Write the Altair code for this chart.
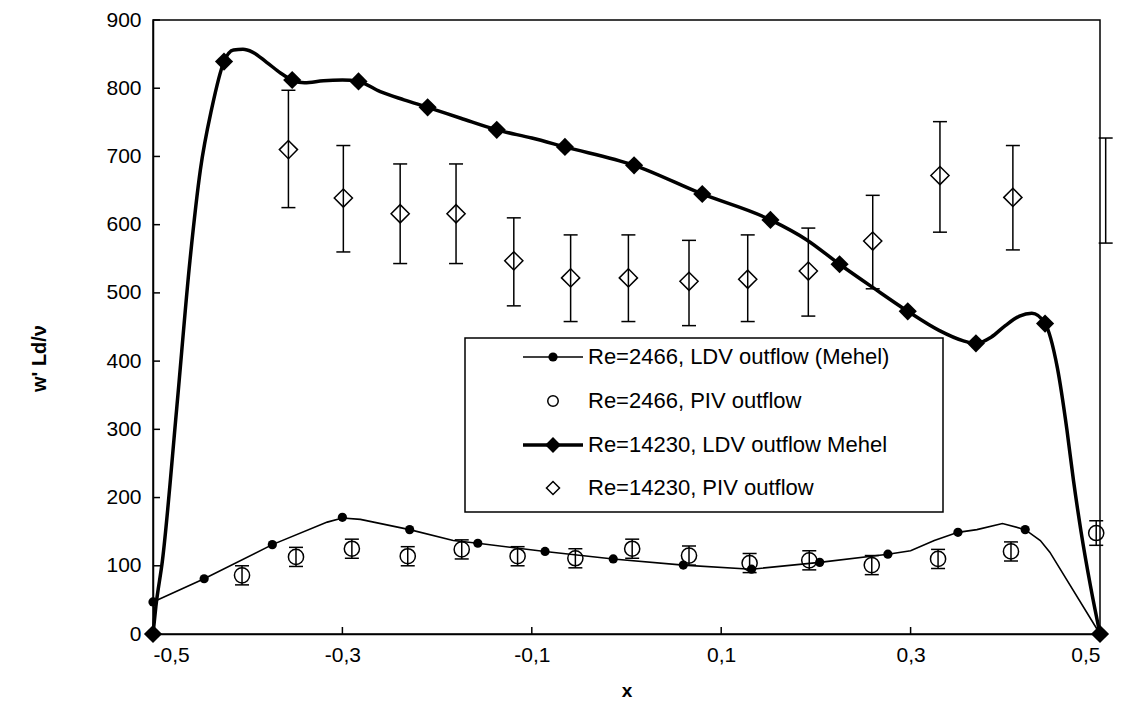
import altair as alt
import pandas as pd

FONT = "Liberation Sans"

# ---- Re=14230 LDV (Mehel): marker points and the smoothed curve ----
ldv14_x = [-0.5, -0.425, -0.353, -0.283, -0.21, -0.137, -0.065, 0.008, 0.08, 0.152, 0.225, 0.297, 0.369, 0.442, 0.5]
ldv14_y = [0, 839, 812, 810, 772, 739, 714, 687, 645, 607, 542, 473, 426, 455, 0]

curve14_x = [-0.5, -0.497, -0.49, -0.475, -0.461, -0.45, -0.438, -0.425, -0.415, -0.405, -0.395, -0.38,
             -0.365, -0.353, -0.34, -0.32, -0.3, -0.283, -0.26, -0.235, -0.21, -0.175, -0.137, -0.1,
             -0.065, 0.008, 0.08, 0.152, 0.19, 0.225, 0.26, 0.297, 0.33, 0.355, 0.369, 0.385, 0.4,
             0.415, 0.428, 0.442, 0.455, 0.465, 0.472, 0.48, 0.49, 0.5]
curve14_y = [0, 40, 108, 330, 547, 680, 770, 839, 856, 857, 853, 838,
             822, 812, 808, 811, 812, 810, 795, 783, 772, 756, 739, 727,
             714, 687, 645, 607, 578, 542, 508, 473, 445, 430, 426, 435, 452,
             466, 470, 455, 390, 300, 225, 150, 70, 0]

# ---- Re=2466 LDV (Mehel): marker points and line ----
ldv2_x = [-0.5, -0.446, -0.374, -0.30, -0.229, -0.157, -0.086, -0.014, 0.060, 0.132, 0.204, 0.276, 0.350, 0.421, 0.5]
ldv2_y = [47, 81, 131, 171, 153, 133, 121, 110, 101, 95, 105, 117, 149, 153, 0]

line2_x = [-0.5, -0.446, -0.374, -0.316, -0.30, -0.281, -0.229, -0.183, -0.157, -0.086, -0.014, 0.060,
           0.132, 0.204, 0.276, 0.30, 0.325, 0.350, 0.37, 0.397, 0.421, 0.437, 0.447, 0.5]
line2_y = [47, 81, 131, 164, 170, 168, 153, 137, 133, 121, 110, 101,
           95, 105, 117, 122, 137, 149, 153, 162, 153, 137, 120, 0]

# ---- Re=2466 PIV ----
piv2_x = [-0.406, -0.349, -0.290, -0.231, -0.174, -0.115, -0.054, 0.006, 0.066, 0.130, 0.193, 0.259, 0.329, 0.406, 0.496]
piv2_y = [86, 113, 125, 114, 124, 114, 111, 125, 115, 104, 108, 101, 110, 121, 148]
piv2_err = [14, 14, 14, 14, 14, 14, 14, 14, 14, 14, 14, 14, 14, 14, 18]

# ---- Re=14230 PIV ----
piv14_x = [-0.357, -0.299, -0.239, -0.180, -0.119, -0.059, 0.002, 0.066, 0.128, 0.192, 0.260, 0.331, 0.408, 0.506]
piv14_y = [710, 639, 616, 616, 547, 522, 522, 517, 520, 532, 576, 672, 640, 650]
piv14_lo = [625, 560, 543, 543, 481, 458, 458, 452, 458, 466, 506, 589, 563, 573]
piv14_hi = [797, 716, 689, 689, 610, 585, 585, 577, 585, 595, 643, 751, 716, 727]

x_ticks = [-0.5, -0.3, -0.1, 0.1, 0.3, 0.5]
y_ticks = [0, 100, 200, 300, 400, 500, 600, 700, 800, 900]

legend_labels = ["Re=2466, LDV outflow (Mehel)", "Re=2466, PIV outflow",
                 "Re=14230, LDV outflow Mehel", "Re=14230, PIV outflow"]

W, H = 947, 614

df_ldv14 = pd.DataFrame({"x": ldv14_x, "y": ldv14_y})
df_c14 = pd.DataFrame({"x": curve14_x, "y": curve14_y})
df_ldv2 = pd.DataFrame({"x": ldv2_x, "y": ldv2_y})
df_l2 = pd.DataFrame({"x": line2_x, "y": line2_y})
df_p2 = pd.DataFrame({"x": piv2_x, "y": piv2_y, "e": piv2_err})
df_p2["lo"] = df_p2["y"] - df_p2["e"]
df_p2["hi"] = df_p2["y"] + df_p2["e"]
df_p14 = pd.DataFrame({"x": piv14_x, "y": piv14_y, "lo": piv14_lo, "hi": piv14_hi})
df_xt = pd.DataFrame({"v": x_ticks})
df_yt = pd.DataFrame({"v": y_ticks})
one = pd.DataFrame({"a": [0]})

XS = alt.Scale(domain=[-0.5, 0.5], nice=False, zero=False)
YS = alt.Scale(domain=[0, 900], nice=False)

xaxis = alt.Axis(values=x_ticks,
                 labelExpr="replace(replace(format(datum.value,'.1f'),'.',','),'−','-')",
                 grid=False, ticks=False, tickSize=0, domainColor="black", domainWidth=1.5,
                 labelFont=FONT, labelFontSize=21, labelColor="black", labelPadding=10,
                 title="x", titleFont=FONT, titleFontSize=19, titleFontWeight="bold",
                 titleColor="black", titlePadding=16)
yaxis = alt.Axis(values=y_ticks, grid=False, ticks=False, tickSize=0, domainColor="black",
                 domainWidth=1.5, labelFont=FONT, labelFontSize=21, labelColor="black",
                 labelPadding=12, title="w' Ld/ν", titleFont=FONT, titleFontSize=20,
                 titleFontWeight="bold", titleColor="black", titleX=-114, titleY=338,
                 titleAngle=-90, titleAlign="center", titleBaseline="middle")

base_x = alt.X("x:Q", scale=XS, axis=xaxis)
base_y = alt.Y("y:Q", scale=YS, axis=yaxis)

thick_line = alt.Chart(df_c14).mark_line(color="black", strokeWidth=3.5, interpolate="monotone").encode(
    x=base_x, y=base_y, order="x:Q")
thick_pts = alt.Chart(df_ldv14).mark_point(shape="diamond", filled=True, color="black", size=330, opacity=1).encode(
    x="x:Q", y="y:Q")
thin_line = alt.Chart(df_l2).mark_line(color="black", strokeWidth=1.6).encode(x="x:Q", y="y:Q", order="x:Q")
thin_pts = alt.Chart(df_ldv2).mark_point(shape="circle", filled=True, color="black", size=85, opacity=1).encode(
    x="x:Q", y="y:Q")

p2_rule = alt.Chart(df_p2).mark_rule(color="black", strokeWidth=1.5).encode(x="x:Q", y="lo:Q", y2="hi:Q")
p2_cap_lo = alt.Chart(df_p2).mark_rule(color="black", strokeWidth=1.5, xOffset=-7, x2Offset=7).encode(
    x="x:Q", x2="x:Q", y="lo:Q")
p2_cap_hi = alt.Chart(df_p2).mark_rule(color="black", strokeWidth=1.5, xOffset=-7, x2Offset=7).encode(
    x="x:Q", x2="x:Q", y="hi:Q")
p2_pts = alt.Chart(df_p2).mark_point(shape="circle", filled=False, color="black", size=230, strokeWidth=1.5,
                                     opacity=1).encode(x="x:Q", y="y:Q")

p14_rule = alt.Chart(df_p14).mark_rule(color="black", strokeWidth=1.5).encode(x="x:Q", y="lo:Q", y2="hi:Q")
p14_cap_lo = alt.Chart(df_p14).mark_rule(color="black", strokeWidth=1.5, xOffset=-7, x2Offset=7).encode(
    x="x:Q", x2="x:Q", y="lo:Q")
p14_cap_hi = alt.Chart(df_p14).mark_rule(color="black", strokeWidth=1.5, xOffset=-7, x2Offset=7).encode(
    x="x:Q", x2="x:Q", y="hi:Q")
p14_pts = alt.Chart(df_p14).transform_filter("datum.x <= 0.5").mark_point(
    shape="diamond", filled=False, color="black", size=330, strokeWidth=1.5, opacity=1).encode(x="x:Q", y="y:Q")

ytick_marks = alt.Chart(df_yt).mark_rule(color="black", strokeWidth=1.5).encode(
    x=alt.value(0), x2=alt.value(7), y=alt.Y("v:Q", scale=YS))
xtick_marks = alt.Chart(df_xt).mark_rule(color="black", strokeWidth=1.5).encode(
    x=alt.X("v:Q", scale=XS), y=alt.value(H), y2=alt.value(H - 7))

# ---- legend (drawn by hand, boxed) ----
LX0, LX1, LY0, LY1 = 312, 790, 318, 492
rows = [337, 381, 425, 468]
SX0, SX1, SXM, TX = 370, 430, 400, 435

leg_box = alt.Chart(one).mark_rect(fill="white", stroke="black", strokeWidth=1.5).encode(
    x=alt.value(LX0), x2=alt.value(LX1), y=alt.value(LY0), y2=alt.value(LY1))
leg_layers = [leg_box]
leg_layers.append(alt.Chart(one).mark_rule(color="black", strokeWidth=1.6).encode(
    x=alt.value(SX0), x2=alt.value(SX1), y=alt.value(rows[0])))
leg_layers.append(alt.Chart(one).mark_point(shape="circle", filled=True, color="black", size=85, opacity=1).encode(
    x=alt.value(SXM), y=alt.value(rows[0])))
leg_layers.append(alt.Chart(one).mark_point(shape="circle", filled=False, color="black", size=110, strokeWidth=1.5,
                                            opacity=1).encode(x=alt.value(SXM), y=alt.value(rows[1])))
leg_layers.append(alt.Chart(one).mark_rule(color="black", strokeWidth=3.5).encode(
    x=alt.value(SX0), x2=alt.value(SX1), y=alt.value(rows[2])))
leg_layers.append(alt.Chart(one).mark_point(shape="diamond", filled=True, color="black", size=250, opacity=1).encode(
    x=alt.value(SXM), y=alt.value(rows[2])))
leg_layers.append(alt.Chart(one).mark_point(shape="diamond", filled=False, color="black", size=170, strokeWidth=1.5,
                                            opacity=1).encode(x=alt.value(SXM), y=alt.value(rows[3])))
for lab, ry in zip(legend_labels, rows):
    leg_layers.append(alt.Chart(one).mark_text(text=lab, font=FONT, fontSize=22, align="left", baseline="middle",
                                               color="black").encode(x=alt.value(TX), y=alt.value(ry)))

chart = alt.layer(
    thick_line, thin_line, thick_pts, thin_pts,
    p14_rule, p14_cap_lo, p14_cap_hi, p14_pts,
    p2_rule, p2_cap_lo, p2_cap_hi, p2_pts,
    *leg_layers,
    ytick_marks, xtick_marks,
).properties(
    width=W, height=H,
    autosize=alt.AutoSizeParams(type="none"),
    padding={"left": 145, "top": 12, "right": 15, "bottom": 74},
    background="white",
).configure_view(stroke="black", strokeWidth=1.5)

chart.save("out.html", embed_options={"renderer": "svg", "actions": False})
